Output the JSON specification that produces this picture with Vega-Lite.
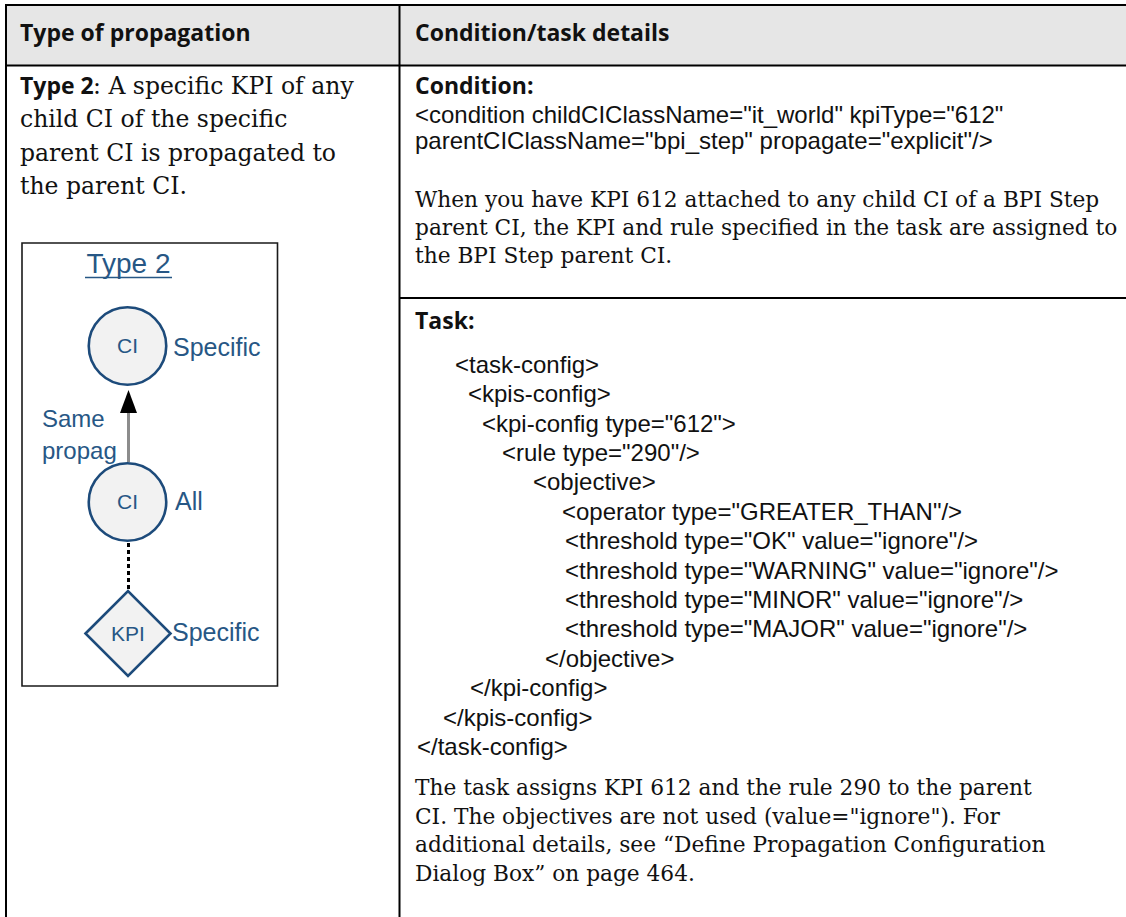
{
  "$schema": "https://vega.github.io/schema/vega-lite/v6.json",
  "width": 1126,
  "height": 917,
  "padding": 0,
  "autosize": {"type": "none"},
  "background": "white",
  "config": {"view": {"stroke": null}},
  "datasets": {
    "band": [{"x": 6, "y": 5, "x2": 1126, "y2": 65}],
    "gridlines": [
      {"x": 5, "y": 5, "x2": 1126, "y2": 5},
      {"x": 5, "y": 65.5, "x2": 1126, "y2": 65.5},
      {"x": 6, "y": 4, "x2": 6, "y2": 917},
      {"x": 399.5, "y": 4, "x2": 399.5, "y2": 917},
      {"x": 399.5, "y": 298, "x2": 1126, "y2": 298}
    ],
    "figure": [{"x": 22, "y": 243, "x2": 277.5, "y2": 686}],
    "headings": [
      {"text": "Type of propagation", "x": 20, "y": 41},
      {"text": "Condition/task details", "x": 415, "y": 41},
      {"text": "Type 2", "x": 20, "y": 94},
      {"text": "Condition:", "x": 415, "y": 94},
      {"text": "Task:", "x": 415, "y": 329}
    ],
    "leftText": [
      {"text": ": A specific KPI of any", "x": 93, "y": 94},
      {"text": "child CI of the specific", "x": 20, "y": 127.3},
      {"text": "parent CI is propagated to", "x": 20, "y": 160.6},
      {"text": "the parent CI.", "x": 20, "y": 194}
    ],
    "prose": [
      {"text": "When you have KPI 612 attached to any child CI of a BPI Step", "x": 415, "y": 207},
      {"text": "parent CI, the KPI and rule specified in the task are assigned to", "x": 415, "y": 235},
      {"text": "the BPI Step parent CI.", "x": 415, "y": 263},
      {"text": "The task assigns KPI 612 and the rule 290 to the parent", "x": 415, "y": 795},
      {"text": "CI. The objectives are not used (value=\"ignore\"). For", "x": 415, "y": 823.5},
      {"text": "additional details, see “Define Propagation Configuration", "x": 415, "y": 852},
      {"text": "Dialog Box” on page 464.", "x": 415, "y": 880.5}
    ],
    "code": [
      {"text": "<condition childCIClassName=\"it_world\" kpiType=\"612\"", "x": 415, "y": 123},
      {"text": "parentCIClassName=\"bpi_step\" propagate=\"explicit\"/>", "x": 415, "y": 149},
      {"text": "<task-config>", "x": 455, "y": 372.7},
      {"text": "<kpis-config>", "x": 468, "y": 402.1},
      {"text": "<kpi-config type=\"612\">", "x": 482, "y": 431.5},
      {"text": "<rule type=\"290\"/>", "x": 502, "y": 460.9},
      {"text": "<objective>", "x": 533, "y": 490.3},
      {"text": "<operator type=\"GREATER_THAN\"/>", "x": 562, "y": 519.7},
      {"text": "<threshold type=\"OK\" value=\"ignore\"/>", "x": 565, "y": 549.1},
      {"text": "<threshold type=\"WARNING\" value=\"ignore\"/>", "x": 565, "y": 578.5},
      {"text": "<threshold type=\"MINOR\" value=\"ignore\"/>", "x": 565, "y": 607.9},
      {"text": "<threshold type=\"MAJOR\" value=\"ignore\"/>", "x": 565, "y": 637.3},
      {"text": "</objective>", "x": 545, "y": 666.7},
      {"text": "</kpi-config>", "x": 470, "y": 696.1},
      {"text": "</kpis-config>", "x": 443, "y": 725.5},
      {"text": "</task-config>", "x": 417, "y": 754.9}
    ],
    "figTitle": [{"text": "Type 2", "x": 128.5, "y": 273}],
    "figUnderline": [{"x": 85, "y": 277.5, "x2": 172, "y2": 277.5}],
    "nodes": [
      {"kind": "CI", "label": "CI", "x": 127.5, "y": 346},
      {"kind": "CI", "label": "CI", "x": 127.5, "y": 502},
      {"kind": "KPI", "label": "KPI", "x": 128, "y": 633.5}
    ],
    "qualifiers": [
      {"text": "Specific", "x": 173, "y": 355.5},
      {"text": "All", "x": 175, "y": 510},
      {"text": "Specific", "x": 172, "y": 641}
    ],
    "edgeLabel": [
      {"text": "Same", "x": 42, "y": 426.7},
      {"text": "propag", "x": 42, "y": 459.3}
    ],
    "shaft": [{"x": 128.5, "y": 411, "x2": 128.5, "y2": 462}],
    "head": [{"x": 128.5, "y": 401.5}],
    "dotted": [{"x": 128.5, "y": 543, "x2": 128.5, "y2": 590}]
  },
  "encoding": {
    "x": {"field": "x", "type": "quantitative", "scale": {"domain": [0, 1126], "range": [0, 1126], "nice": false, "zero": false}, "axis": null},
    "y": {"field": "y", "type": "quantitative", "scale": {"domain": [0, 917], "range": [0, 917], "nice": false, "zero": false}, "axis": null}
  },
  "layer": [
    {
      "data": {"name": "band"},
      "mark": {"type": "rect", "fill": "#e6e6e6"},
      "encoding": {"x2": {"field": "x2"}, "y2": {"field": "y2"}}
    },
    {
      "data": {"name": "gridlines"},
      "mark": {"type": "rule", "color": "#000000", "strokeWidth": 2},
      "encoding": {"x2": {"field": "x2"}, "y2": {"field": "y2"}}
    },
    {
      "data": {"name": "figure"},
      "mark": {"type": "rect", "fill": "#ffffff", "stroke": "#1a1a1a", "strokeWidth": 1.6},
      "encoding": {"x2": {"field": "x2"}, "y2": {"field": "y2"}}
    },
    {
      "data": {"name": "figTitle"},
      "mark": {"type": "text", "align": "center", "baseline": "alphabetic", "font": "Liberation Sans", "fontSize": 28, "color": "#275785"},
      "encoding": {"text": {"field": "text", "type": "nominal"}}
    },
    {
      "data": {"name": "figUnderline"},
      "mark": {"type": "rule", "color": "#275785", "strokeWidth": 1.6},
      "encoding": {"x2": {"field": "x2"}, "y2": {"field": "y2"}}
    },
    {
      "data": {"name": "shaft"},
      "mark": {"type": "rule", "color": "#8c8c8c", "strokeWidth": 3},
      "encoding": {"x2": {"field": "x2"}, "y2": {"field": "y2"}}
    },
    {
      "data": {"name": "head"},
      "mark": {"type": "point", "filled": true, "fill": "#000000", "opacity": 1, "size": 529, "shape": "M0,-1L0.74,1L-0.74,1Z"},
      "encoding": {}
    },
    {
      "data": {"name": "dotted"},
      "mark": {"type": "rule", "color": "#000000", "strokeWidth": 3, "strokeDash": [4, 3]},
      "encoding": {"x2": {"field": "x2"}, "y2": {"field": "y2"}}
    },
    {
      "data": {"name": "nodes"},
      "mark": {"type": "point", "filled": true, "fill": "#f2f2f2", "stroke": "#1d4b7b", "strokeWidth": 2.6, "opacity": 1},
      "encoding": {
        "shape": {"field": "kind", "type": "nominal", "scale": {"domain": ["CI", "KPI"], "range": ["circle", "diamond"]}, "legend": null},
        "size": {"field": "kind", "type": "nominal", "scale": {"domain": ["CI", "KPI"], "range": [6006, 7225]}, "legend": null}
      }
    },
    {
      "data": {"name": "nodes"},
      "mark": {"type": "text", "align": "center", "baseline": "middle", "font": "Liberation Sans", "fontSize": 21, "color": "#275785", "dy": 1},
      "encoding": {"text": {"field": "label", "type": "nominal"}}
    },
    {
      "data": {"name": "qualifiers"},
      "mark": {"type": "text", "align": "left", "baseline": "alphabetic", "font": "Liberation Sans", "fontSize": 25, "color": "#275785"},
      "encoding": {"text": {"field": "text", "type": "nominal"}}
    },
    {
      "data": {"name": "edgeLabel"},
      "mark": {"type": "text", "align": "left", "baseline": "alphabetic", "font": "Liberation Sans", "fontSize": 24, "color": "#275785"},
      "encoding": {"text": {"field": "text", "type": "nominal"}}
    },
    {
      "data": {"name": "headings"},
      "mark": {"type": "text", "align": "left", "baseline": "alphabetic", "font": "Open Sans", "fontWeight": "bold", "fontSize": 23, "color": "#111111"},
      "encoding": {"text": {"field": "text", "type": "nominal"}}
    },
    {
      "data": {"name": "leftText"},
      "mark": {"type": "text", "align": "left", "baseline": "alphabetic", "font": "DejaVu Serif", "fontSize": 23.5, "color": "#111111"},
      "encoding": {"text": {"field": "text", "type": "nominal"}}
    },
    {
      "data": {"name": "prose"},
      "mark": {"type": "text", "align": "left", "baseline": "alphabetic", "font": "DejaVu Serif", "fontSize": 21.7, "color": "#111111"},
      "encoding": {"text": {"field": "text", "type": "nominal"}}
    },
    {
      "data": {"name": "code"},
      "mark": {"type": "text", "align": "left", "baseline": "alphabetic", "font": "Liberation Sans", "fontSize": 24, "color": "#111111"},
      "encoding": {"text": {"field": "text", "type": "nominal"}}
    }
  ]
}
